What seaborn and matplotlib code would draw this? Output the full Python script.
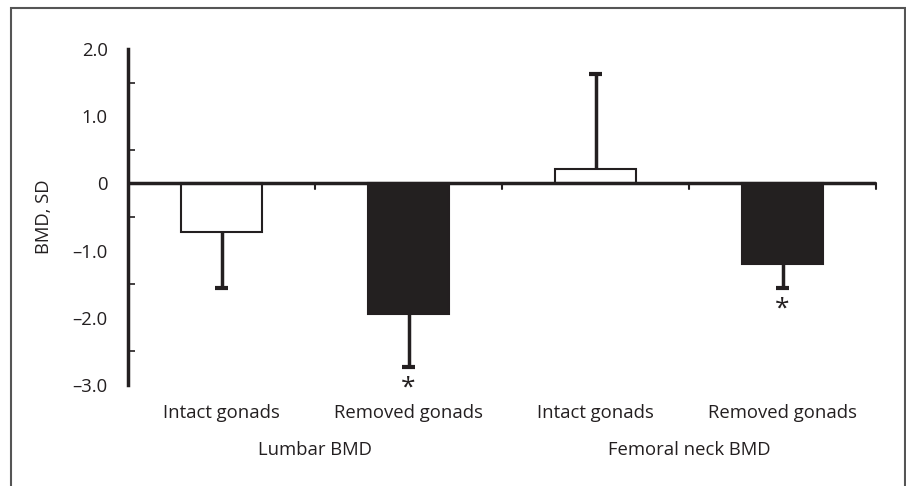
import matplotlib
matplotlib.use("Agg")
import matplotlib.pyplot as plt
import seaborn as sns
import pandas as pd
from matplotlib.patches import Rectangle

categories = ["Intact gonads", "Removed gonads", "Intact gonads ", "Removed gonads "]
tick_labels = ["Intact gonads", "Removed gonads", "Intact gonads", "Removed gonads"]
groups = ["Lumbar BMD", "Femoral neck BMD"]
values = [-0.72, -1.95, 0.21, -1.20]
sd = [0.83, 0.78, 1.42, 0.35]
significant = [False, True, False, True]

sns.set_style("white")
plt.rcParams['font.family'] = ['Open Sans', 'DejaVu Sans']

fig = plt.figure(figsize=(9.06, 4.86), dpi=100)
ax = fig.add_axes([128/906, 1-385/486, (876-128)/906, (385-49)/486])

df = pd.DataFrame({"cat": categories, "val": values})
dark = "#231f20"
txt = "#231f20"
fs = 13.3
sns.barplot(data=df, x="cat", y="val", ax=ax, width=0.43,
            palette=["white", dark, "white", dark], hue="cat", legend=False,
            edgecolor=dark, linewidth=1.5)

cap = 0.036
for i, (v, s) in enumerate(zip(values, sd)):
    end = v + s if v >= 0 else v - s
    ax.vlines(i, v, end, color=dark, lw=2.5, zorder=3)
    ax.hlines(end, i - cap, i + cap, color=dark, lw=3, zorder=3)
    if significant[i]:
        ax.text(i, end - 0.13, "*", ha="center", va="top", fontsize=19, color=dark)

ax.set_xlim(-0.5, 3.5)
ax.set_ylim(-3, 2)
ax.axhline(0, color=dark, lw=2.5, zorder=4)
for b in [0.5, 1.5, 2.5, 3.5]:
    ax.plot([b, b], [0, -0.09], color=dark, lw=1.5, zorder=4, clip_on=False)

ax.set_yticks([2, 1, 0, -1, -2, -3])
ax.set_yticklabels(["2.0", "1.0", "0", "\u20131.0", "\u20132.0", "\u20133.0"], fontsize=fs, color=txt)
ax.set_yticks([1.5, 0.5, -0.5, -1.5, -2.5], minor=True)
ax.tick_params(axis="y", which="major", direction="inout", length=11, width=1.5, color=dark, pad=9)
ax.tick_params(axis="y", which="minor", direction="in", length=5, width=1.2, color=dark, left=True)
ax.set_xticks(range(4))
ax.set_xticklabels(tick_labels, fontsize=fs, color=txt)
ax.tick_params(axis="x", length=0, pad=14)
ax.set_xlabel("")
ax.set_ylabel("BMD, SD", fontsize=fs, color=txt, labelpad=14)

for sp in ["top", "right", "bottom"]:
    ax.spines[sp].set_visible(False)
ax.spines["left"].set_linewidth(2.5)
ax.spines["left"].set_color(dark)

for gi, g in enumerate(groups):
    ax.text(0.5 + 2*gi, -3.0 - 65/67, g, ha="center", va="center", fontsize=fs, color=txt)

fig.patches.append(Rectangle((11/906, -0.01), (905-11)/906, 1 - 8/486 + 0.01,
                             transform=fig.transFigure, fill=False,
                             edgecolor="#555555", lw=1.5))

fig.savefig("out.png", dpi=100)
